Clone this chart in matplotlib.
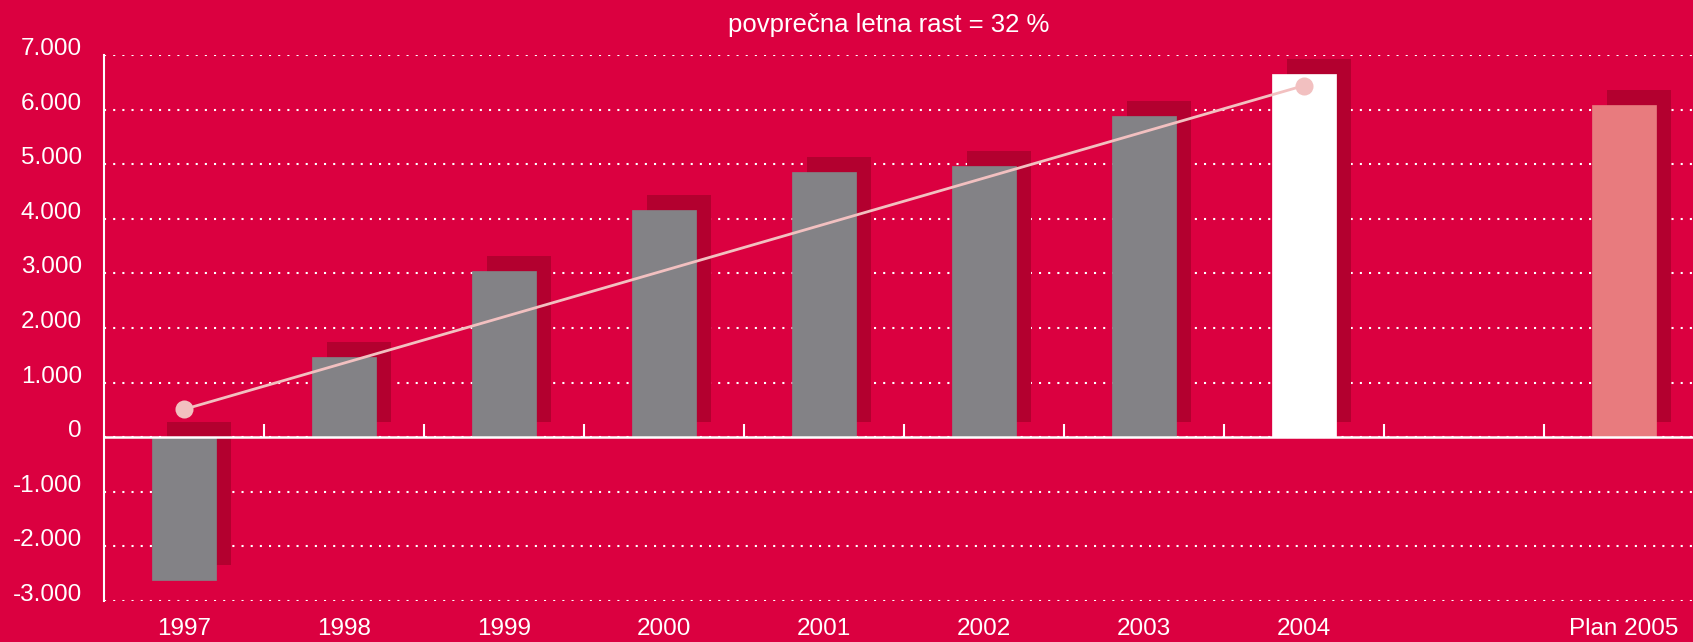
import numpy as np
import matplotlib
matplotlib.use('Agg')
import matplotlib.pyplot as plt

# data
categories = ['1997', '1998', '1999', '2000', '2001', '2002', '2003', '2004', '', 'Plan 2005']
values = [-2610, 1470, 3040, 4160, 4850, 4960, 5890, 6660, np.nan, 6080]
trend_x = [0, 7]
trend_y = [510, 6440]
yticks = [-3000, -2000, -1000, 0, 1000, 2000, 3000, 4000, 5000, 6000, 7000]

bg = '#DB0040'
gray = '#838286'
shadow = '#B3002F'
colors = [gray] * 7 + ['white', gray, '#E87B7E']

plt.rcParams['font.family'] = ['Liberation Sans', 'DejaVu Sans']

fig = plt.figure(figsize=(16.93, 6.42), dpi=100, facecolor=bg)
ax = fig.add_axes([104 / 1693, 1 - 601 / 642, 1 - 104 / 1693, (601 - 55) / 642])
ax.set_facecolor(bg)

x = np.arange(len(categories))
vals = np.array(values, dtype=float)

# dotted grid
for yv in yticks:
    ax.axhline(yv, color='white', lw=1.5, linestyle=(0, (1, 3.4)), zorder=1)

# shadow bars (offset right and up)
dx, dy = 0.094, 275
ax.bar(x + dx, vals, width=0.4, bottom=dy, color=shadow, zorder=2)
# main bars
ax.bar(x, vals, width=0.4, color=colors, edgecolor=colors, linewidth=0.5, zorder=3)

# zero line and slot ticks
ax.axhline(0, color='white', lw=1.8, zorder=4)
ax.vlines(np.arange(0.5, 9, 1.0), 0, 240, color='white', lw=1.5, zorder=4)

# trend line
ax.plot(trend_x, trend_y, color='#F2C0C0', lw=2, marker='o', markersize=13,
        markeredgewidth=0, zorder=5)

ax.set_xlim(-0.5, -0.5 + (1693 - 104) / 160)
ax.set_ylim(-3000, 7000)

ax.set_xticks(x)
ax.set_xticklabels(categories, color='white', fontsize=17.5)
ax.set_yticks(yticks)
ax.set_yticklabels([f'{v:,}'.replace(',', '.') for v in yticks], color='white', fontsize=17.5)
for lab in ax.get_yticklabels():
    lab.set_va('baseline')
ax.tick_params(axis='both', length=0)
ax.tick_params(axis='y', pad=16)
ax.tick_params(axis='x', pad=12)

for s in ['top', 'right', 'bottom']:
    ax.spines[s].set_visible(False)
ax.spines['left'].set_color('white')
ax.spines['left'].set_linewidth(1.5)

fig.text(889 / 1693, 1 - 25 / 642, 'povprečna letna rast = 32 %', color='white',
         fontsize=18.5, ha='center', va='center')

fig.savefig('out.png', dpi=100, facecolor=bg)
